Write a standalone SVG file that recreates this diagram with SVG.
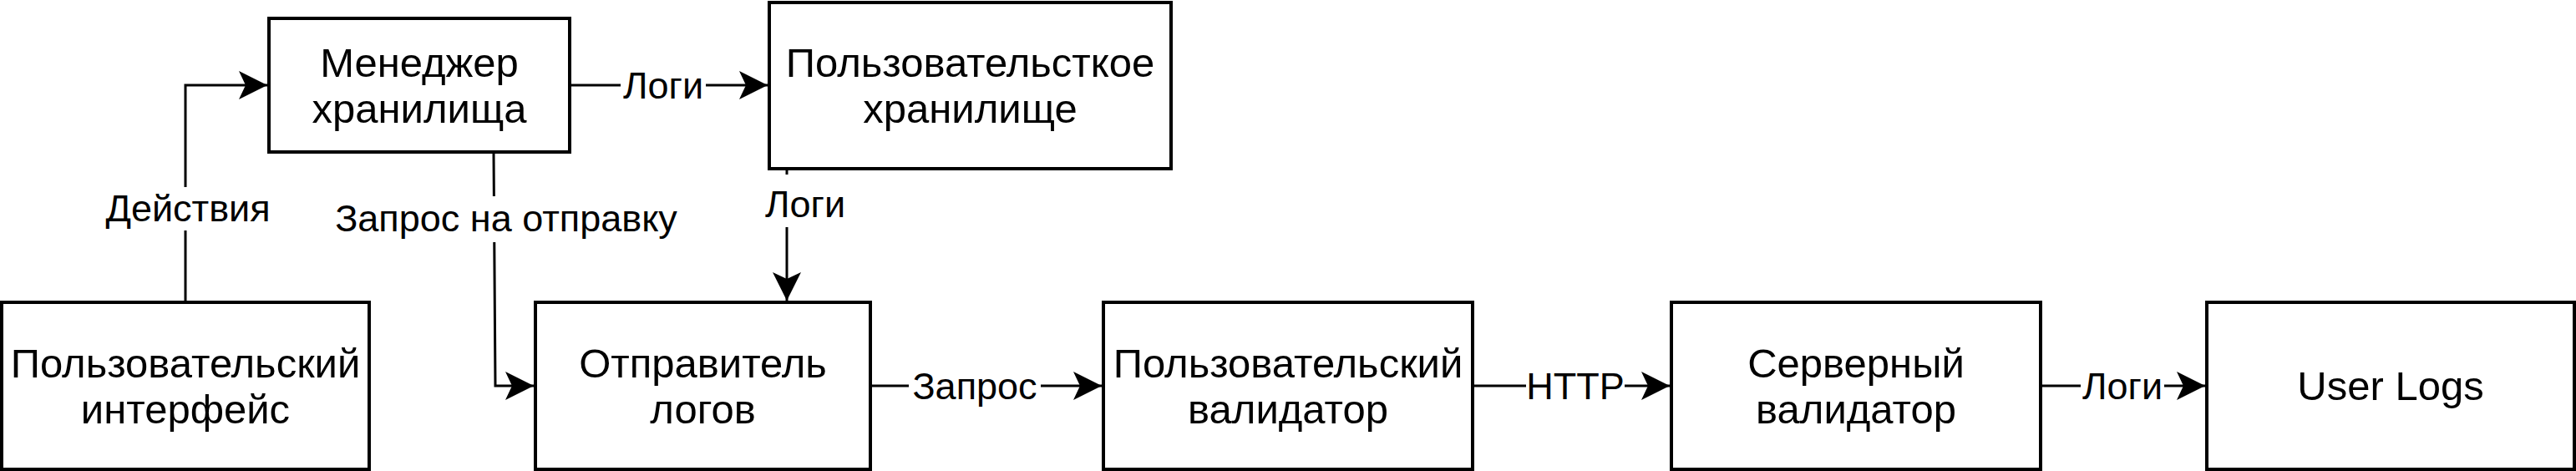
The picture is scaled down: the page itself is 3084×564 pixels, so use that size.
<svg xmlns="http://www.w3.org/2000/svg" width="3084" height="564" viewBox="0 0 3084 564">
  <style>
    .node rect { fill: #ffffff; stroke: #000000; stroke-width: 4; }
    .node text { font-family: "Liberation Sans", Arial, Helvetica, sans-serif; font-size: 49px; fill: #000000; text-anchor: middle; }
    .edge path { fill: none; stroke: #000000; stroke-width: 3; }
    .edge rect { fill: #ffffff; stroke: none; }
    .edge text { font-family: "Liberation Sans", Arial, Helvetica, sans-serif; font-size: 45px; fill: #000000; text-anchor: middle; }
  </style>
  <defs>
    <marker id="arrow" markerUnits="userSpaceOnUse" markerWidth="40" markerHeight="40" viewBox="0 0 40 40" refX="38" refY="20" orient="auto">
      <path d="M38,20 L4,3 L12,20 L4,37 Z" fill="#000000" stroke="none"/>
    </marker>
  </defs>
  <rect x="0" y="0" width="3084" height="564" fill="#ffffff"/>

  <g id="connectors">
    <g class="edge" id="e-actions">
      <path d="M222,362 L222,102 L320,102" marker-end="url(#arrow)"/>
      <rect x="123" y="224" width="204" height="52"/>
      <text x="225" y="265">Действия</text>
    </g>
    <g class="edge" id="e-logs1">
      <path d="M682,102 L919,102" marker-end="url(#arrow)"/>
      <rect x="743" y="76" width="102" height="52"/>
      <text x="794" y="118">Логи</text>
    </g>
    <g class="edge" id="e-send-request">
      <path d="M591,183 L593,462 L639,462" marker-end="url(#arrow)"/>
      <rect x="400" y="235" width="412" height="55"/>
      <text x="606" y="277">Запрос на отправку</text>
    </g>
    <g class="edge" id="e-logs2">
      <path d="M942,202 L942,360" marker-end="url(#arrow)"/>
      <rect x="913" y="209" width="102" height="63"/>
      <text x="964" y="260">Логи</text>
    </g>
    <g class="edge" id="e-request">
      <path d="M1042,462 L1319,462" marker-end="url(#arrow)"/>
      <rect x="1088" y="436" width="158" height="52"/>
      <text x="1167" y="478">Запрос</text>
    </g>
    <g class="edge" id="e-http">
      <path d="M1763,462 L1999,462" marker-end="url(#arrow)"/>
      <rect x="1827" y="436" width="118" height="52"/>
      <text x="1886" y="478">HTTP</text>
    </g>
    <g class="edge" id="e-logs3">
      <path d="M2443,462 L2640,462" marker-end="url(#arrow)"/>
      <rect x="2491" y="436" width="100" height="52"/>
      <text x="2541" y="478">Логи</text>
    </g>
  </g>

  <g id="n-storage-manager" class="node">
    <rect x="322" y="22" width="360" height="160"/>
    <text x="502" y="92">Менеджер</text>
    <text x="502" y="147">хранилища</text>
  </g>
  <g id="n-user-storage" class="node">
    <rect x="921" y="3" width="481" height="199"/>
    <text x="1161.5" y="92">Пользовательсткое</text>
    <text x="1161.5" y="147">хранилище</text>
  </g>
  <g id="n-ui" class="node">
    <rect x="2" y="362" width="440" height="200"/>
    <text x="222" y="452">Пользовательский</text>
    <text x="222" y="507">интерфейс</text>
  </g>
  <g id="n-log-sender" class="node">
    <rect x="641" y="362" width="401" height="200"/>
    <text x="841.5" y="452">Отправитель</text>
    <text x="841.5" y="507">логов</text>
  </g>
  <g id="n-user-validator" class="node">
    <rect x="1321" y="362" width="442" height="200"/>
    <text x="1542" y="452">Пользовательский</text>
    <text x="1542" y="507">валидатор</text>
  </g>
  <g id="n-server-validator" class="node">
    <rect x="2001" y="362" width="442" height="200"/>
    <text x="2222" y="452">Серверный</text>
    <text x="2222" y="507">валидатор</text>
  </g>
  <g id="n-user-logs" class="node">
    <rect x="2642" y="362" width="440" height="200"/>
    <text x="2862" y="479">User Logs</text>
  </g>
</svg>
